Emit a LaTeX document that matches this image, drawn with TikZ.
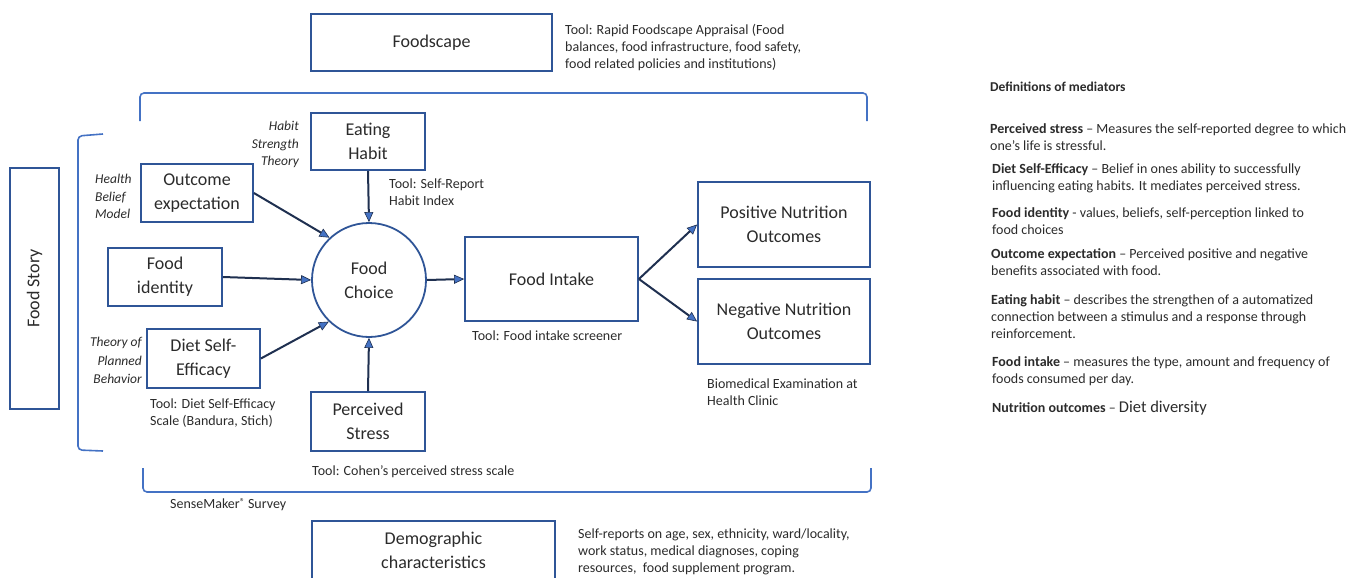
\documentclass[tikz,border=0pt]{standalone}
\usepackage{fontspec}
\setmainfont{Carlito}
\usetikzlibrary{arrows.meta}
\definecolor{boxblue}{HTML}{2F5597}
\definecolor{brk}{HTML}{4472C4}
\definecolor{arr}{HTML}{1F3050}
\definecolor{txt}{HTML}{2B2B2B}
\tikzset{
  box/.style={draw=boxblue, line width=1.8pt, align=center, inner sep=0pt, font=\fontsize{18}{24}\selectfont, text=txt},
  note/.style={align=left, inner sep=0pt, font=\fontsize{14}{17}\selectfont, text=txt, anchor=north west},
  theory/.style={inner sep=0pt, font=\fontsize{13.5}{17.5}\selectfont\itshape, text=txt},
  defn/.style={align=left, inner sep=0pt, font=\fontsize{14}{17}\selectfont, text=txt, anchor=north west},
  link/.style={draw=arr, line width=2pt, -{Triangle[length=10pt,width=9pt,fill=brk,color=arr,line width=0.6pt]}},
  brack/.style={draw=brk, line width=1.6pt, rounded corners=4pt},
}
\begin{document}
\begin{tikzpicture}[x=1pt,y=-1pt]
\useasboundingbox (0,0) rectangle (1353,578);
\clip (0,0) rectangle (1353,578);

% brackets
\draw[brack] (140,121) -- (140,93) -- (867,93) -- (867,121);
\draw[brack] (143,468) -- (143,492) -- (871,492) -- (871,468);
\draw[brack] (103,134) -- (78,136) -- (78,450) -- (103,451);

% boxes
\node[box, minimum width=241pt, minimum height=57pt] (scape) at (431.5,42.5) {Foodscape};
\node[box, minimum width=49pt, minimum height=241pt] (story) at (34.5,288.5) {};
\node[rotate=90, inner sep=0pt, font=\fontsize{18}{24}\selectfont, text=txt] (storytext) at (story.center) {Food Story};
\node[box, minimum width=114pt, minimum height=57pt] (habit) at (368,141.5) {Eating\\Habit};
\node[box, minimum width=112pt, minimum height=58pt] (outc) at (197,193) {Outcome\\expectation};
\node[box, minimum width=114pt, minimum height=58pt] (fid) at (165,277) {Food\\identity};
\node[box, minimum width=113pt, minimum height=59pt] (dse) at (203.5,358.5) {Diet Self-\\Efficacy};
\node[box, minimum width=114pt, minimum height=59pt] (stress) at (368,421.5) {Perceived\\Stress};
\node[box, circle, minimum size=114pt] (choice) at (369,280) {Food\\Choice};
\node[box, minimum width=173pt, minimum height=84pt] (intake) at (551.5,279) {Food Intake};
\node[box, minimum width=172pt, minimum height=85pt] (pos) at (784,224.5) {Positive Nutrition\\Outcomes};
\node[box, minimum width=172pt, minimum height=85pt] (neg) at (784,321.5) {Negative Nutrition\\Outcomes};
\node[box, minimum width=243pt, minimum height=58pt] (demo) at (433.5,550) {Demographic\\characteristics};

% connectors
\draw[link] (outc.east) -- (choice.133);
\draw[link] (fid.east) -- (choice.west);
\draw[link] (dse.east) -- (choice.226);
\draw[link] (habit.south) -- (choice.north);
\draw[link] (stress.north) -- (choice.south);
\draw[link] (choice.east) -- (intake.west);
\draw[link] (intake.east) -- (pos.west);
\draw[link] (intake.east) -- (neg.west);

% theory labels
\node[theory, align=right, anchor=north east] (hst) at (299,121) {Habit\\Strength\\Theory};
\node[theory, align=left, anchor=north west] (hbm) at (95,174) {Health\\Belief\\Model};
\node[theory, align=right, anchor=north east, font=\fontsize{13.5}{18.5}\selectfont\itshape] (tpb) at (142,337) {Theory of\\Planned\\Behavior};

% tool notes
\node[note] (tscape) at (565,24) {Tool: Rapid Foodscape Appraisal (Food\\balances, food infrastructure, food safety,\\food related policies and institutions)};
\node[note] (thabit) at (389,179) {Tool: Self-Report\\Habit Index};
\node[note] (tintake) at (472,331) {Tool: Food intake screener};
\node[note] (tdse) at (150,399) {Tool: Diet Self-Efficacy\\Scale (Bandura, Stich)};
\node[note] (tstress) at (312,465) {Tool: Cohen’s perceived stress scale};
\node[note] (tbio) at (707,379) {Biomedical Examination at\\Health Clinic};
\node[note] (tsense) at (170,498) {SenseMaker\raisebox{3pt}{\fontsize{10}{10}\selectfont ®} Survey};
\node[note] (tdemo) at (578,529) {Self-reports on age, sex, ethnicity, ward/locality,\\work status, medical diagnoses, coping\\resources,\ \ food supplement program.};

% definitions
\node[defn, font=\fontsize{13.5}{17}\selectfont\bfseries] (dtitle) at (990,82) {Definitions of mediators};
\node[defn] (d1) at (990,123) {\textbf{Perceived stress} – Measures the self-reported degree to which\\one’s life is stressful.};
\node[defn] (d2) at (992,163) {\textbf{Diet Self-Efficacy} – Belief in ones ability to successfully\\influencing eating habits. It mediates perceived stress.};
\node[defn] (d3) at (992,207) {\textbf{Food identity} - values, beliefs, self-perception linked to\\food choices};
\node[defn] (d4) at (991,248) {\textbf{Outcome expectation} – Perceived positive and negative\\benefits associated with food.};
\node[defn] (d5) at (991,294) {\textbf{Eating habit} – describes the strengthen of a automatized\\connection between a stimulus and a response through\\reinforcement.};
\node[defn] (d6) at (992,356) {\textbf{Food intake} – measures the type, amount and frequency of\\foods consumed per day.};
\node[defn] (d7) at (992,401) {\textbf{Nutrition outcomes} – {\fontsize{16.5}{17}\selectfont Diet diversity}};
\end{tikzpicture}
\end{document}
